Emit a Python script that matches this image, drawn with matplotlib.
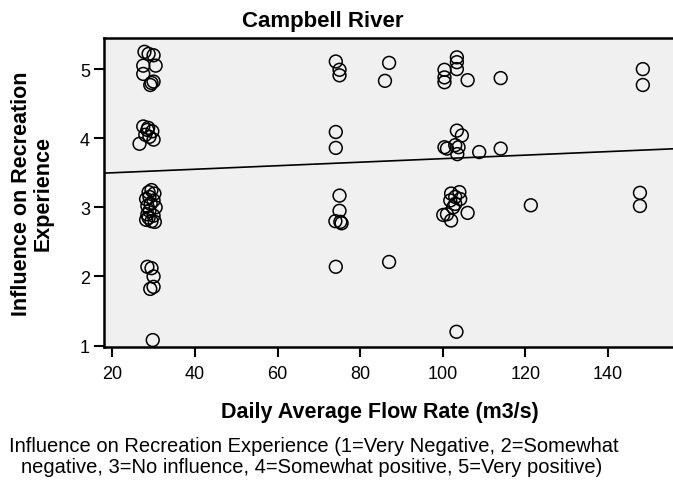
import numpy as np
import matplotlib
matplotlib.use('Agg')
import matplotlib.pyplot as plt

plt.rcParams['font.family'] = ['Liberation Sans', 'DejaVu Sans']

# Flow rate (m3/s) and jittered response values
flow = [27.8, 28.8, 30.0, 27.5, 30.5, 27.5, 29.5, 29.2, 30.0,
        27.5, 28.7, 29.7, 28.0, 29.0, 30.0, 26.6, 28.5,
        29.5, 28.8, 30.2, 29.0, 28.2, 30.0, 29.3, 28.5, 30.5, 29.0, 28.5, 30.0, 28.2, 29.5, 30.3, 28.8,
        28.5, 29.5, 30.0, 30.0, 29.2, 29.8,
        74.1, 75.0, 75.0, 74.1, 74.1, 75.0, 75.0, 74.0, 75.2, 75.5, 74.1, 87.0, 86.0, 87.0,
        100.4, 100.4, 100.4, 103.4, 103.4, 103.4, 106.0, 114.0,
        103.4, 104.6, 100.4, 101.0, 103.8, 103.5, 103.0, 108.8, 114.0,
        102.0, 104.0, 103.0, 101.8, 104.2, 103.0, 102.5, 100.1, 101.0, 102.0, 106.0,
        121.3, 103.3,
        148.4, 148.4, 147.7, 147.7]
influence = [5.25, 5.22, 5.20, 5.05, 5.05, 4.93, 4.80, 4.77, 4.82,
             4.17, 4.15, 4.10, 4.05, 4.02, 3.98, 3.92, 4.12,
             3.25, 3.22, 3.20, 3.15, 3.12, 3.10, 3.05, 3.02, 3.00, 2.95, 2.90, 2.88, 2.82, 2.80, 2.79, 2.85,
             2.14, 2.12, 2.00, 1.85, 1.82, 1.08,
             5.11, 4.99, 4.91, 4.09, 3.86, 3.17, 2.95, 2.80, 2.79, 2.77, 2.14, 5.09, 4.83, 2.21,
             4.99, 4.88, 4.81, 5.17, 5.10, 5.00, 4.84, 4.87,
             4.11, 4.04, 3.87, 3.85, 3.87, 3.77, 3.90, 3.80, 3.85,
             3.20, 3.22, 3.15, 3.10, 3.12, 3.05, 3.00, 2.89, 2.90, 2.81, 2.92,
             3.03, 1.20,
             5.00, 4.77, 3.21, 3.02]

# fit line as drawn on the chart
fit_intercept = 3.449
fit_slope = 0.002555

x_ticks = [20, 40, 60, 80, 100, 120, 140]
y_ticks = [1, 2, 3, 4, 5]

fig = plt.figure(figsize=(6.73, 4.85), dpi=100)
ax = fig.add_axes([0.1545, 0.2825, 0.8455, 0.6371])
ax.set_facecolor('#f0f0f0')

ax.scatter(flow, influence, s=85, facecolors='none', edgecolors='black', linewidths=1.1, zorder=3)

xlim = (18.0, 155.7)
xs = np.array(xlim)
ax.plot(xs, fit_intercept + fit_slope * xs, color='black', lw=1.2, zorder=2)

ax.set_xlim(*xlim)
ax.set_ylim(0.98, 5.45)
ax.set_xticks(x_ticks)
ax.set_yticks(y_ticks)
ax.tick_params(direction='out', length=7, width=1.5, labelsize=13)
ax.tick_params(axis='x', pad=6)
ax.tick_params(axis='y', pad=3)
for sp in ax.spines.values():
    sp.set_linewidth(1.8)
ax.spines['right'].set_visible(False)

fig.text(242 / 673, 1 - 27 / 485, 'Campbell River', fontsize=16, fontweight='bold',
         ha='left', va='baseline')
fig.text(32 / 673, 1 - 193.5 / 485, 'Influence on Recreation\nExperience', fontsize=15.5,
         fontweight='bold', rotation=90, ha='center', va='center', ma='center', linespacing=1.05)
fig.text(380 / 673, 1 - 413 / 485, 'Daily Average Flow Rate (m3/s)', fontsize=15.5,
         fontweight='bold', ha='center', va='center')

fig.text(9 / 673, 1 - 447 / 485, 'Influence on Recreation Experience (1=Very Negative, 2=Somewhat',
         fontsize=14.5, ha='left', va='center')
fig.text(21 / 673, 1 - 468 / 485, 'negative, 3=No influence, 4=Somewhat positive, 5=Very positive)',
         fontsize=14.5, ha='left', va='center')

fig.savefig('out.png', dpi=100)
